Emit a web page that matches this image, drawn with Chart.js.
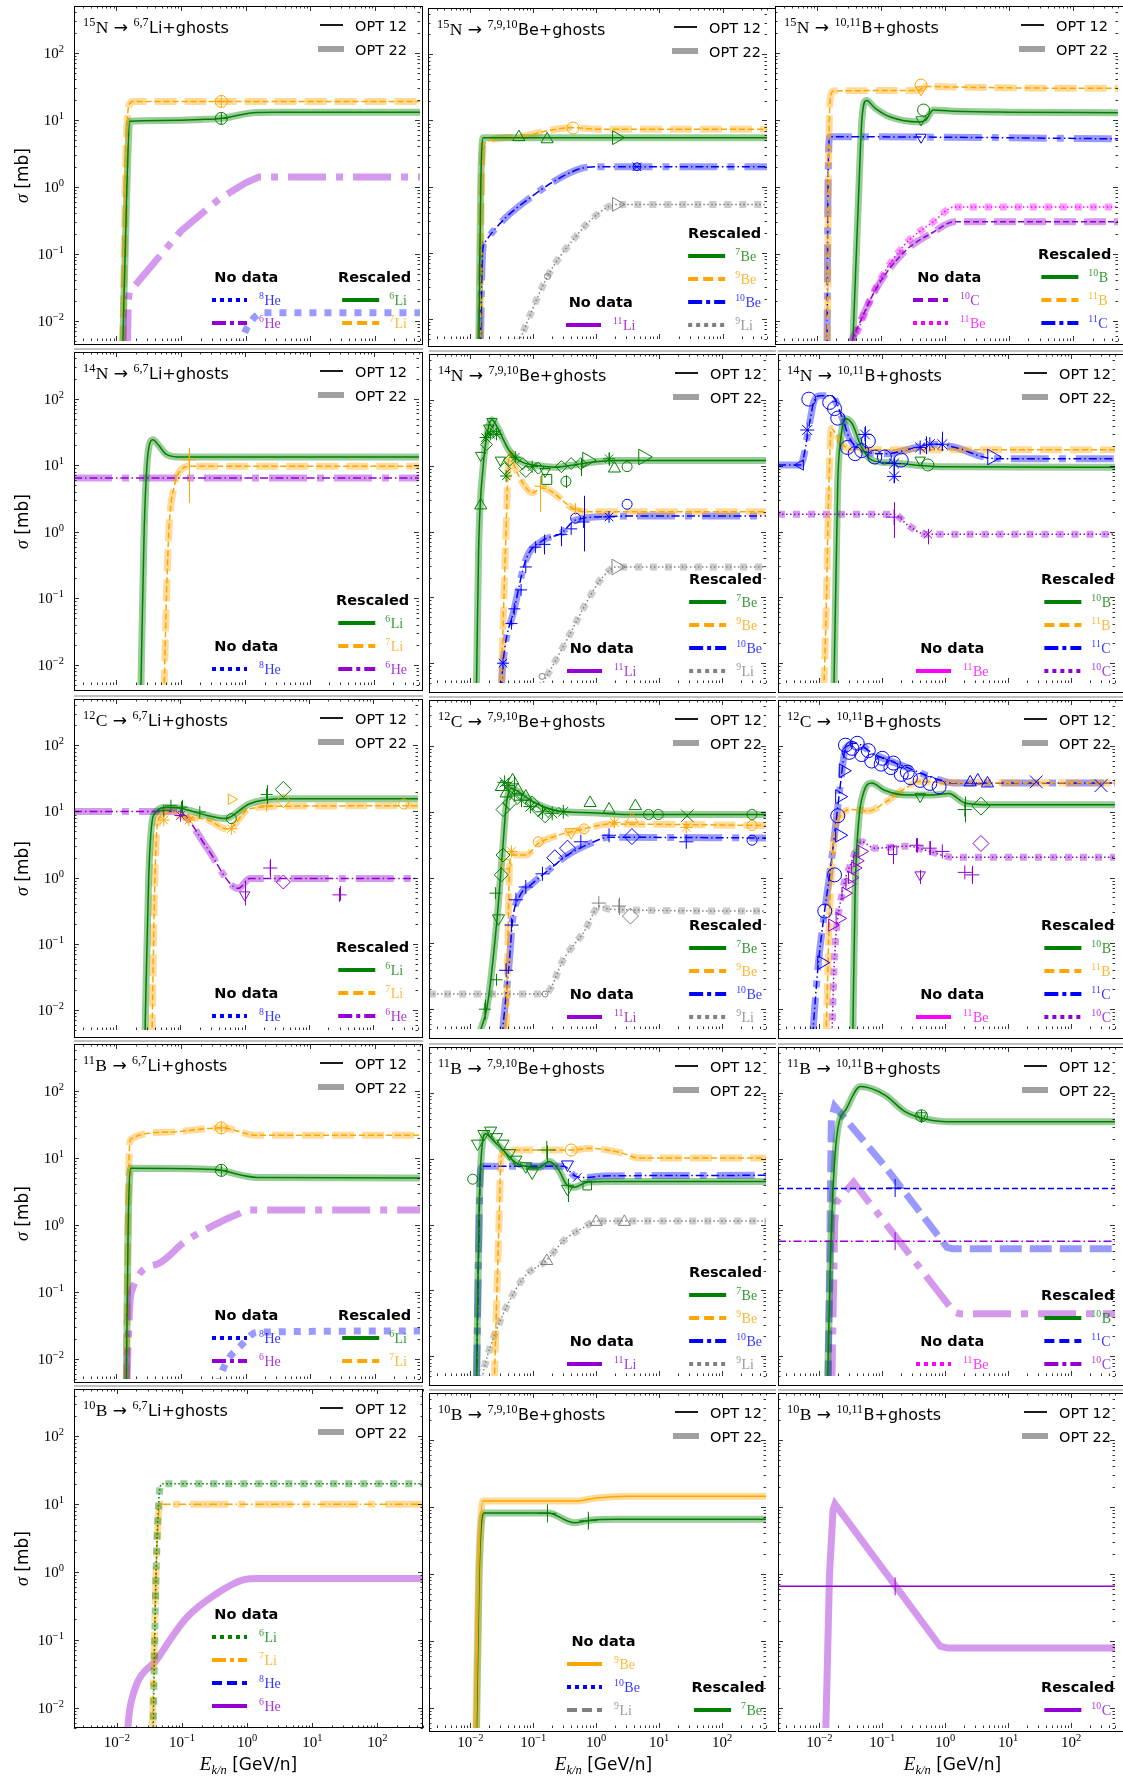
<!DOCTYPE html>
<html><head><meta charset="utf-8">
<script src="https://cdn.jsdelivr.net/npm/chart.js@4.4.0/dist/chart.umd.min.js"></script>
<style>
html,body{margin:0;padding:0;background:#fff}
body{width:1123px;height:1778px;position:relative;overflow:hidden}
canvas{position:absolute}
</style></head><body>
<script>
// ---------------- axis ----------------
const X_MIN = 0.0022, X_MAX = 500, Y_MIN = 0.005, Y_MAX = 500;
const tickDecades = [-2, -1, 0, 1, 2];
const tickExponents = ['\u22122', '\u22121', '0', '1', '2'];
const projectiles = ['15|N', '14|N', '12|C', '11|B', '10|B'];
const fragments = ['6,7|Li', '7,9,10|Be', '10,11|B'];

// ---------------- curves [E (GeV/n), sigma (mb)] ----------------
// 15N
const N15_Li6 = [[0.0125,0.004],[0.0145,1],[0.016,9.5],[0.05,9.8],[0.2,10.1],[0.45,10.6],[0.8,11.8],[1.3,12.8],[3,13],[500,13]];
const N15_Li7 = [[0.0125,0.004],[0.014,3],[0.016,17.5],[0.018,18.8],[500,18.8]];
const N15_He6 = [[0.0148,0.004],[0.0152,0.02],[0.0158,0.027],[0.021,0.037],[0.1,0.22],[0.39,0.66],[1.0,1.15],[1.6,1.4],[500,1.4]];
const N15_He8 = [[0.85,0.004],[0.95,0.0063],[1.25,0.0102],[1.8,0.0132],[500,0.0132]];
const N15_Be7 = [[0.014,0.004],[0.015,1],[0.0165,5.5],[500,5.5]];
const N15_Be9 = [[0.0145,0.004],[0.0155,1],[0.017,4.5],[0.05,5.6],[0.2,7.2],[0.43,7.8],[1,7.4],[500,7.4]];
const N15_Be10 = [[0.0148,0.004],[0.016,0.1],[0.0175,0.145],[0.036,0.33],[0.1,0.73],[0.22,1.22],[0.59,1.9],[1.0,2.0],[500,2.0]];
const N15_Li9 = [[0.057,0.004],[0.17,0.044],[0.46,0.17],[1.0,0.37],[2.1,0.54],[500,0.54]];
const N15_B11 = [[0.0145,0.004],[0.015,1],[0.016,20],[0.018,27],[0.38,27.5],[0.5,31.5],[1.2,31],[10,30],[500,29.5]];
const N15_B10 = [[0.036,0.004],[0.045,1],[0.05,10],[0.059,19.5],[0.08,15],[0.14,11],[0.39,9.3],[0.5,10],[0.65,14],[1.2,13.5],[10,13],[500,12.8]];
const N15_C11 = [[0.0143,0.004],[0.0148,1],[0.0158,5.6],[1,5.5],[500,5.2]];
const N15_C10 = [[0.031,0.004],[0.085,0.031],[0.23,0.107],[0.65,0.21],[1.4,0.30],[500,0.30]];
const N15_Be11 = [[0.034,0.004],[0.085,0.033],[0.23,0.135],[0.65,0.3],[1.4,0.5],[500,0.5]];
// 14N
const N14_Li6 = [[0.024,0.004],[0.027,1],[0.031,15],[0.037,24],[0.045,20],[0.06,14.5],[0.1,13.2],[500,13.2]];
const N14_Li7 = [[0.055,0.004],[0.062,0.3],[0.067,1.5],[0.08,5],[0.1,8.5],[0.14,9.6],[500,9.6]];
const N14_He6 = [[0.0022,6.4],[500,6.4]];
const N14_Be7 = [[0.0125,0.004],[0.0135,0.5],[0.016,10],[0.019,35],[0.022,50],[0.027,38],[0.04,18],[0.06,12],[0.12,10],[0.22,9.5],[0.5,10.5],[1,11.5],[2,12],[500,12]];
const N14_Be9 = [[0.031,0.004],[0.036,0.5],[0.042,17],[0.05,10],[0.068,5.5],[0.096,3.9],[0.137,4.6],[0.45,2.2],[0.64,2.0],[500,2.0]];
const N14_Be10 = [[0.031,0.004],[0.033,0.01],[0.05,0.067],[0.076,0.37],[0.137,0.72],[0.28,0.95],[0.47,1.5],[1.6,1.7],[3,1.72],[500,1.72]];
const N14_Li9 = [[0.125,0.004],[0.31,0.019],[0.8,0.105],[1.3,0.21],[2.1,0.29],[500,0.29]];
const N14_C11 = [[0.0022,10.3],[0.005,10.3],[0.0072,52],[0.0081,92],[0.0102,116],[0.0155,116],[0.0234,52],[0.0297,27],[0.0476,17],[0.108,15.2],[0.35,19],[0.64,21.3],[1.45,19],[4.2,13.5],[7.6,12.8],[500,12.8]];
const N14_B11 = [[0.0118,0.004],[0.013,0.1],[0.0138,1.8],[0.0155,37],[0.0174,33],[0.0234,21],[0.033,17.5],[500,17.5]];
const N14_B10 = [[0.017,0.004],[0.0185,0.3],[0.0196,5.5],[0.022,26.8],[0.026,52],[0.033,44],[0.047,19],[0.068,12.2],[0.137,11.1],[0.8,9.7],[500,9.5]];
const N14_C10 = [[0.0022,1.84],[0.154,1.84],[0.25,1.27],[0.5,0.91],[500,0.91]];
// 12C
const C12_He6 = [[0.0022,10],[0.09,10],[0.12,8.5],[0.26,2.8],[0.8,0.69],[1.2,0.97],[500,0.97]];
const C12_Li6 = [[0.028,0.004],[0.032,1],[0.038,8.7],[0.063,11.6],[0.1,11.2],[0.26,8.7],[0.5,7.8],[1.17,13],[4.2,15.5],[500,15.5]];
const C12_Li7 = [[0.036,0.004],[0.04,1],[0.045,7.5],[0.071,10],[0.11,8.4],[0.26,7.5],[0.55,5.4],[1.17,11],[4.2,12],[500,12.2]];
const C12_Be7 = [[0.0135,0.004],[0.0185,0.011],[0.026,0.19],[0.033,3.1],[0.037,12.2],[0.045,23],[0.053,21.3],[0.108,13.6],[0.25,10.3],[0.8,9.7],[3.3,9.1],[500,9.1]];
const C12_Be9 = [[0.037,0.004],[0.04,0.19],[0.042,1.6],[0.047,2.2],[0.076,2.2],[0.12,3.3],[0.25,4.4],[0.64,5.5],[1.6,6.5],[500,6.2]];
const C12_Be10 = [[0.032,0.004],[0.042,0.06],[0.047,0.23],[0.06,0.51],[0.096,0.81],[0.17,1.27],[0.35,2.2],[0.8,3.3],[1.6,4.1],[500,4.0]];
const C12_Li9 = [[0.0022,0.017],[0.154,0.017],[0.31,0.06],[0.64,0.15],[1.15,0.37],[1.6,0.33],[500,0.31]];
const C12_C11 = [[0.0078,0.004],[0.0096,0.048],[0.012,0.29],[0.0146,1.13],[0.0174,4.4],[0.022,30],[0.026,92],[0.037,110],[0.076,74],[0.25,47],[0.64,33],[1.3,27.5],[500,27.5]];
const C12_B11 = [[0.0128,0.004],[0.0146,0.33],[0.0174,4.4],[0.022,8.7],[0.033,10.8],[0.06,10.3],[0.108,13.6],[0.25,23.8],[0.4,29],[0.8,28],[500,27.5]];
const C12_B10 = [[0.034,0.004],[0.037,0.58],[0.042,6.9],[0.05,19],[0.068,27.4],[0.108,21.3],[0.25,18],[0.64,18],[1.15,19],[2.05,13.6],[4.7,12.8],[500,12.8]];
const C12_C10 = [[0.0158,0.004],[0.0174,0.06],[0.023,0.58],[0.033,1.8],[0.047,3.5],[0.076,2.8],[0.25,3.0],[0.57,2.5],[1.3,2.04],[500,2.04]];
// 11B
const B11_Li7 = [[0.0142,0.004],[0.0152,3],[0.0167,19],[0.055,24],[0.42,28],[1.5,21.7],[500,21.7]];
const B11_Li6 = [[0.0142,0.004],[0.0152,1],[0.0167,7],[0.35,6.7],[0.45,6.4],[1.5,5.1],[500,5.0]];
const B11_He6 = [[0.0145,0.004],[0.0155,0.03],[0.0167,0.094],[0.043,0.26],[0.117,0.57],[0.33,1.0],[0.7,1.4],[1.17,1.66],[500,1.66]];
const B11_He8 = [[0.38,0.004],[0.42,0.006],[0.91,0.017],[1.5,0.025],[500,0.026]];
const B11_Be7 = [[0.0125,0.004],[0.0138,1.8],[0.0155,17],[0.0174,24],[0.023,19],[0.033,13.6],[0.053,8.7],[0.076,7.7],[0.12,7.3],[0.18,9.1],[0.25,6.9],[0.35,3.9],[0.45,3.7],[0.72,4.4],[1.45,4.5],[500,4.5]];
const B11_Be10 = [[0.0125,0.004],[0.0146,6.9],[0.0164,7.7],[0.31,7.7],[0.45,5.5],[0.72,5.2],[1.3,5.5],[500,5.6]];
const B11_Be9 = [[0.024,0.004],[0.028,0.58],[0.031,10.8],[0.037,13.6],[0.4,13.6],[0.8,14.4],[2.6,12.2],[4.7,10.3],[500,10.3]];
const B11_Li9 = [[0.015,0.004],[0.0164,0.0063],[0.026,0.025],[0.068,0.15],[0.164,0.29],[0.31,0.58],[0.64,0.91],[1.0,1.13],[500,1.13]];
const B11_B10 = [[0.0135,0.004],[0.0151,0.4],[0.0186,19],[0.027,58],[0.045,125],[0.11,93],[0.23,52],[0.5,40],[1.38,36.5],[500,36.5]];
const B11_C11_o12 = [[0.0022,3.55],[500,3.55]];
const B11_C11_o22 = [[0.0138,0.004],[0.0155,40],[0.0175,63],[0.11,7.7],[1.07,0.45],[1.3,0.43],[500,0.43]];
const B11_C10_o12 = [[0.0022,0.56],[500,0.56]];
const B11_C10_o22 = [[0.0158,0.004],[0.0175,1],[0.0186,2.2],[0.035,4.4],[1.38,0.047],[1.7,0.044],[500,0.044]];
// 10B
const B10_Li6 = [[0.036,0.004],[0.04,1],[0.044,11],[0.049,20],[500,20]];
const B10_Li7 = [[0.035,0.004],[0.04,1],[0.045,9],[0.049,10],[500,10]];
const B10_He6 = [[0.0145,0.004],[0.0152,0.007],[0.0167,0.0125],[0.043,0.054],[0.117,0.21],[0.33,0.47],[0.9,0.77],[1.5,0.8],[500,0.8]];
const B10_Be9 = [[0.0122,0.004],[0.0135,1],[0.016,12.2],[0.45,12.2],[1.0,13.5],[3,14.4],[500,14.4]];
const B10_Be7 = [[0.0125,0.004],[0.0138,1],[0.0165,8.1],[0.17,8.1],[0.45,5.8],[0.8,6.3],[2,6.5],[500,6.5]];
const B10_C10_o12 = [[0.0022,0.65],[500,0.65]];
const B10_C10_o22 = [[0.0126,0.004],[0.0145,1],[0.0165,9],[0.0177,11],[0.83,0.083],[1.1,0.078],[500,0.078]];
// curves drawn with straight segments (no smoothing)
const LINEAR_CURVES = [N15_He6, B11_C11_o22, B11_C10_o22, B10_C10_o22];

// ---------------- data points ----------------
const N15_Li6_pts = [[0.42,10.5]];
const N15_Li7_pts = [[0.42,18.8]];
const N15_Be7_up = [[0.06,5.6],[0.168,5.2]];
const N15_Be7_right = [[2.1,5.5]];
const N15_Be9_pts = [[0.43,7.7]];
const N15_Be10_pts = [[4.4,2.0]];
const N15_Li9_pts = [[2.1,0.54]];
const N15_Li9_small = [[0.17,0.044]];
const N15_B11_pts = [[0.42,33]];
const N15_B11_down = [[0.42,28]];
const N15_B10_pts = [[0.46,14]];
const N15_B10_down = [[0.42,10]];
const N15_C11_down = [[0.42,5.5]];
const N14_Li7_pts = [[0.135,12]];
const N14_Be7_up = [[0.0146,2.5],[1.95,9.1]];
const N14_Be7_down = [[0.0146,14.4],[0.0196,37.5],[0.022,47],[0.03,12.2],[0.154,8.2]];
const N14_Be7_star = [[0.0174,26.9],[0.021,30],[0.023,33],[0.026,30],[0.037,7],[0.052,13.5],[0.096,9.7],[1.6,12.8]];
const N14_Be7_dia = [[0.018,21],[0.035,9.1],[0.042,12.2],[0.068,10.8],[0.076,8.2],[0.12,9.2],[0.28,9.7],[0.4,10.8],[0.57,10.8]];
const N14_Be7_sq = [[0.164,6.2]];
const N14_Be7_circ = [[0.33,5.8],[3.1,9.7]];
const N14_Be7_right = [[5.6,13.6],[0.72,12.2]];
const N14_Be9_pts = [[0.13,4.9],[0.47,2.2]];
const N14_Be10_cross = [[0.045,0.04],[0.05,0.067],[0.064,0.13],[0.076,0.29],[0.108,0.58],[0.15,0.64],[0.28,0.9],[0.4,1.1],[0.63,1.4]];
const N14_Be10_star = [[0.033,0.01],[1.6,1.67]];
const N14_Be10_circ = [[0.47,1.6],[3.1,2.6]];
const N14_Li9_pts = [[2.1,0.29]];
const N14_Li9_small = [[0.138,0.0063]];
const N14_C11_hex = [[0.0068,103],[0.0146,92],[0.0174,74],[0.0196,53],[0.028,19],[0.037,15.3],[0.047,17],[0.06,23.8],[0.076,13.6],[0.108,13.6],[0.2,12.2]];
const N14_C11_cross = [[0.0064,35],[0.053,30],[0.154,10.8],[0.154,6.9],[0.4,19],[0.57,21.3],[0.9,21.3]];
const N14_C11_left = [[0.005,10.3]];
const N14_C11_right = [[5.6,13.6]];
const N14_B10_down = [[0.4,12.2]];
const N14_B10_hex = [[0.53,10.3]];
const N14_C10_cross = [[0.154,1.66]];
const N14_C10_x = [[0.53,0.91]];
const C12_Li6_cross = [[0.055,10.3],[0.071,12.2],[0.104,11.6],[0.2,9.8],[2.2,18]];
const C12_Li6_circ = [[0.62,7.8]];
const C12_Li6_dia = [[4,21.5]];
const C12_Li7_star = [[0.055,7.4],[0.135,7.4],[0.62,5.5]];
const C12_Li7_right = [[0.62,15.3]];
const C12_Li7_dia = [[4,14.5]];
const C12_Li7_cross = [[2.2,12.2]];
const C12_Li7_circ = [[300,13]];
const C12_He6_down = [[1.0,0.55]];
const C12_He6_cross = [[2.5,1.4],[30,0.55]];
const C12_He6_dia = [[4,0.86]];
const C12_He6_star = [[0.1,8.7]];
const C12_Be7_tri = [[0.031,23.8],[0.037,19],[0.047,30],[0.057,21.3],[0.076,17],[0.8,13.6],[1.6,10.8],[4.2,12.2]];
const C12_Be7_dia = [[0.033,10.8],[0.042,13.6],[0.096,13.6],[0.12,10.8],[0.154,8.7],[0.033,2.2],[0.031,1.1]];
const C12_Be7_star = [[0.035,28],[0.04,25],[0.05,18],[0.065,15],[0.09,12],[0.14,10],[0.2,9.5],[0.3,10]];
const C12_Be7_cross = [[0.025,0.58],[0.017,0.01],[0.026,0.028]];
const C12_Be7_down = [[0.028,0.24]];
const C12_Be7_circ = [[6.8,9.1],[9.7,9.1],[300,9.1]];
const C12_Be7_x = [[28,8.7]];
const C12_Be9_circ = [[0.037,1.6],[0.12,3.5],[0.64,5.5],[300,6.2]];
const C12_Be9_star = [[0.045,2.5],[1.95,6.9],[27,5.8]];
const C12_Be9_down = [[0.4,4.9]];
const C12_Be9_up = [[3.7,7.7]];
const C12_Be10_cross = [[0.037,0.039],[0.045,0.19],[0.053,0.46],[0.076,0.72],[0.14,1.14],[0.57,3.5],[1.6,4.4],[27,3.5]];
const C12_Be10_dia = [[0.22,2.0],[0.35,2.8],[3.7,4.2]];
const C12_Be10_circ = [[300,3.7]];
const C12_Li9_circ = [[0.154,0.017]];
const C12_Li9_cross = [[1.1,0.41],[2.3,0.37]];
const C12_Li9_dia = [[3.5,0.26]];
const C12_C11_hex = [[0.026,103],[0.033,92],[0.047,74],[0.068,59],[0.096,53],[0.137,47],[0.2,37],[0.28,33],[0.4,30],[0.57,27],[0.8,24],[0.03,80],[0.04,110],[0.06,85],[0.1,65],[0.15,55],[0.25,40],[0.0174,1.1],[0.0122,0.31],[0.0196,8.7]];
const C12_C11_tri = [[2.5,28],[3.3,30],[4.7,27]];
const C12_C11_x = [[28,28.5],[300,25]];
const C12_C11_right = [[0.024,42],[0.021,17],[0.021,4.4],[0.0109,0.051]];
const C12_B10_down = [[0.4,17]];
const C12_B10_cross = [[2.05,10.8]];
const C12_B10_dia = [[3.7,12.2]];
const C12_C10_right = [[0.016,0.19],[0.021,0.24],[0.026,0.58],[0.03,0.8],[0.033,1.0],[0.037,1.4],[0.04,1.8],[0.047,2.5]];
const C12_C10_sq = [[0.146,2.6]];
const C12_C10_cross = [[0.35,3.1],[0.57,2.8],[0.9,2.5],[2.05,1.2],[2.7,1.1]];
const C12_C10_down = [[0.4,1.1]];
const C12_C10_dia = [[3.7,3.3]];
const B11_Li6_pts = [[0.42,6.5]];
const B11_Li7_pts = [[0.42,28]];
const B11_Be7_circ = [[0.0109,4.9]];
const B11_Be7_down = [[0.013,17],[0.0164,23.8],[0.021,26.8],[0.026,21.3],[0.033,17],[0.042,12.2],[0.053,9.7],[0.076,7.7],[0.096,6.2],[0.35,3.5]];
const B11_Be7_cross = [[0.164,13.6]];
const B11_Be7_sq = [[0.72,3.9]];
const B11_Be9_pts = [[0.4,13.6]];
const B11_Be10_down = [[0.35,8.2]];
const B11_Be10_x = [[0.5,5.2]];
const B11_Li9_up = [[0.164,0.28],[1.0,1.1],[2.8,1.1]];
const B11_B10_pts = [[0.42,45]];
const B11_C11_pts = [[0.16,3.6]];
const B11_C10_pts = [[0.16,0.56]];
const B10_Be7_pts = [[0.168,8],[0.75,6.2]];
const B10_C10_pts = [[0.16,0.65]];

// ---------------- error bars [E, low, high] ----------------
const N14_Li7_err = [[0.135,2.7,18]];
const N14_Be9_err = [[0.13,2.0,7.0]];
const N14_Be7_err = [[0.33,4.6,7.2],[0.57,7,13],[1.6,10,16]];
const N14_Be10_err = [[0.63,0.5,3.5],[0.15,0.45,0.9],[0.28,0.6,1.2]];
const N14_C11_err = [[0.154,5.5,12],[0.9,17,33],[0.053,18,40],[0.5,15,28]];
const N14_C10_err = [[0.154,0.8,2.8],[0.53,0.64,1.1]];
const C12_He6_err = [[1.0,0.38,0.9],[2.5,1.0,1.9],[30,0.45,0.75]];
const C12_Li6_err = [[2.2,13,25],[0.104,8,15]];
const C12_Be7_err = [[0.017,0.007,0.014],[0.05,20,35]];
const C12_Li9_err = [[2.3,0.27,0.5]];
const C12_B10_err = [[2.05,6.9,17]];
const C12_C10_err = [[0.35,2.4,4.0],[0.57,2.2,3.6],[2.7,0.8,1.5],[0.146,1.6,3.2],[0.4,0.8,1.3]];
const B11_Be7_err = [[0.35,2.2,5.0],[0.164,9,16]];
const B11_B10_err = [[0.42,35,56]];
const B10_Be7_err = [[0.75,5,7.5]];

// ---------------- series table: [panel, nuclide, colour, style, legend column, OPT12, OPT22] ----------------
const SERIES = [
 [0,'8|He','blue','dot','nd',null,N15_He8],
 [0,'6|He','purple','dashdot','nd',null,N15_He6],
 [0,'6|Li','green','solid','rs',N15_Li6,N15_Li6],
 [0,'7|Li','orange','dash','rs',N15_Li7,N15_Li7],
 [1,'11|Li','purple','solid','nd',null,null],
 [1,'7|Be','green','solid','rs',N15_Be7,N15_Be7],
 [1,'9|Be','orange','dash','rs',N15_Be9,N15_Be9],
 [1,'10|Be','blue','dashdot','rs',N15_Be10,N15_Be10],
 [1,'9|Li','gray','dot','rs',N15_Li9,N15_Li9],
 [2,'10|C','purple','dash','nd',N15_C10,N15_C10],
 [2,'11|Be','magenta','dot','nd',N15_Be11,N15_Be11],
 [2,'10|B','green','solid','rs',N15_B10,N15_B10],
 [2,'11|B','orange','dash','rs',N15_B11,N15_B11],
 [2,'11|C','blue','dashdot','rs',N15_C11,N15_C11],
 [3,'8|He','blue','dot','nd',null,null],
 [3,'6|Li','green','solid','rs',N14_Li6,N14_Li6],
 [3,'7|Li','orange','dash','rs',N14_Li7,N14_Li7],
 [3,'6|He','purple','dashdot','rs',N14_He6,N14_He6],
 [4,'11|Li','purple','solid','nd',null,null],
 [4,'7|Be','green','solid','rs',N14_Be7,N14_Be7],
 [4,'9|Be','orange','dash','rs',N14_Be9,N14_Be9],
 [4,'10|Be','blue','dashdot','rs',N14_Be10,N14_Be10],
 [4,'9|Li','gray','dot','rs',N14_Li9,N14_Li9],
 [5,'11|Be','magenta','solid','nd',null,null],
 [5,'10|B','green','solid','rs',N14_B10,N14_B10],
 [5,'11|B','orange','dash','rs',N14_B11,N14_B11],
 [5,'11|C','blue','dashdot','rs',N14_C11,N14_C11],
 [5,'10|C','purple','dot','rs',N14_C10,N14_C10],
 [6,'8|He','blue','dot','nd',null,null],
 [6,'6|Li','green','solid','rs',C12_Li6,C12_Li6],
 [6,'7|Li','orange','dash','rs',C12_Li7,C12_Li7],
 [6,'6|He','purple','dashdot','rs',C12_He6,C12_He6],
 [7,'11|Li','purple','solid','nd',null,null],
 [7,'7|Be','green','solid','rs',C12_Be7,C12_Be7],
 [7,'9|Be','orange','dash','rs',C12_Be9,C12_Be9],
 [7,'10|Be','blue','dashdot','rs',C12_Be10,C12_Be10],
 [7,'9|Li','gray','dot','rs',C12_Li9,C12_Li9],
 [8,'11|Be','magenta','solid','nd',null,null],
 [8,'10|B','green','solid','rs',C12_B10,C12_B10],
 [8,'11|B','orange','dash','rs',C12_B11,C12_B11],
 [8,'11|C','blue','dashdot','rs',C12_C11,C12_C11],
 [8,'10|C','purple','dot','rs',C12_C10,C12_C10],
 [9,'8|He','blue','dot','nd',null,B11_He8],
 [9,'6|He','purple','dashdot','nd',null,B11_He6],
 [9,'6|Li','green','solid','rs',B11_Li6,B11_Li6],
 [9,'7|Li','orange','dash','rs',B11_Li7,B11_Li7],
 [10,'11|Li','purple','solid','nd',null,null],
 [10,'7|Be','green','solid','rs',B11_Be7,B11_Be7],
 [10,'9|Be','orange','dash','rs',B11_Be9,B11_Be9],
 [10,'10|Be','blue','dashdot','rs',B11_Be10,B11_Be10],
 [10,'9|Li','gray','dot','rs',B11_Li9,B11_Li9],
 [11,'11|Be','magenta','dot','nd',null,null],
 [11,'10|B','green','solid','rs',B11_B10,B11_B10],
 [11,'11|C','blue','dash','rs',B11_C11_o12,B11_C11_o22],
 [11,'10|C','purple','dashdot','rs',B11_C10_o12,B11_C10_o22],
 [12,'6|Li','green','dot','nd',B10_Li6,B10_Li6],
 [12,'7|Li','orange','dashdot','nd',B10_Li7,B10_Li7],
 [12,'8|He','blue','dash','nd',null,null],
 [12,'6|He','purple','solid','nd',null,B10_He6],
 [13,'9|Be','orange','solid','nd',B10_Be9,B10_Be9],
 [13,'10|Be','blue','dot','nd',null,null],
 [13,'9|Li','gray','dash','nd',null,null],
 [13,'7|Be','green','solid','rs',B10_Be7,B10_Be7],
 [14,'10|C','purple','solid','rs',B10_C10_o12,B10_C10_o22],
];

// ---------------- marker table: [panel, points, colour, shape, rotation, radius] ----------------
const MARKERS = [
 [0,N15_Li6_pts,'green','circle',0,6],[0,N15_Li6_pts,'green','cross',0,6],
 [0,N15_Li7_pts,'orange','circle',0,6],[0,N15_Li7_pts,'orange','cross',0,6],
 [1,N15_Be7_up,'green','triangle',0,7],[1,N15_Be7_right,'green','triangle',90,8],
 [1,N15_Be9_pts,'orange','circle',0,6],[1,N15_Be10_pts,'blue','crossRot',0,6],[1,N15_Be10_pts,'blue','circle',0,4],
 [1,N15_Li9_pts,'gray','triangle',90,8],[1,N15_Li9_small,'gray','circle',0,3],
 [2,N15_B11_pts,'orange','circle',0,6],[2,N15_B11_down,'orange','triangle',180,6],
 [2,N15_B10_pts,'green','circle',0,6],[2,N15_B10_down,'green','triangle',180,6],[2,N15_C11_down,'blue','triangle',180,6],
 [3,N14_Li7_pts,'orange','cross',0,7],
 [4,N14_Be7_up,'green','triangle',0,7],[4,N14_Be7_down,'green','triangle',180,6],[4,N14_Be7_star,'green','star',0,6],
 [4,N14_Be7_dia,'green','rectRot',0,6],[4,N14_Be7_sq,'green','rect',0,7],[4,N14_Be7_circ,'green','circle',0,5],
 [4,N14_Be7_right,'green','triangle',90,9],[4,N14_Be9_pts,'orange','cross',0,6],
 [4,N14_Be10_cross,'blue','cross',0,6],[4,N14_Be10_star,'blue','star',0,6],[4,N14_Be10_circ,'blue','circle',0,5],
 [4,N14_Li9_pts,'gray','triangle',90,9],[4,N14_Li9_small,'gray','circle',0,3],
 [5,N14_C11_hex,'blue','circle',0,7],[5,N14_C11_cross,'blue','star',0,7],[5,N14_C11_left,'blue','triangle',270,6],
 [5,N14_C11_right,'blue','triangle',90,9],[5,N14_B10_down,'green','triangle',180,6],[5,N14_B10_hex,'green','circle',0,6],
 [5,N14_C10_cross,'purple','cross',0,8],[5,N14_C10_x,'purple','crossRot',0,6],
 [6,C12_Li6_cross,'green','cross',0,6],[6,C12_Li6_circ,'green','circle',0,5],[6,C12_Li6_dia,'green','rectRot',0,8],
 [6,C12_Li7_star,'orange','star',0,6],[6,C12_Li7_right,'orange','triangle',90,6],[6,C12_Li7_dia,'orange','rectRot',0,7],
 [6,C12_Li7_cross,'orange','cross',0,6],[6,C12_Li7_circ,'orange','circle',0,5],
 [6,C12_He6_down,'purple','triangle',180,6],[6,C12_He6_cross,'purple','cross',0,7],[6,C12_He6_dia,'purple','rectRot',0,7],[6,C12_He6_star,'purple','star',0,6],
 [7,C12_Be7_tri,'green','triangle',0,7],[7,C12_Be7_dia,'green','rectRot',0,7],[7,C12_Be7_star,'green','star',0,7],
 [7,C12_Be7_cross,'green','cross',0,6],[7,C12_Be7_down,'green','triangle',180,7],[7,C12_Be7_circ,'green','circle',0,5],[7,C12_Be7_x,'green','crossRot',0,9],
 [7,C12_Be9_circ,'orange','circle',0,5],[7,C12_Be9_star,'orange','star',0,6],[7,C12_Be9_down,'orange','triangle',180,7],[7,C12_Be9_up,'orange','triangle',0,7],
 [7,C12_Be10_cross,'blue','cross',0,7],[7,C12_Be10_dia,'blue','rectRot',0,8],[7,C12_Be10_circ,'blue','circle',0,5],
 [7,C12_Li9_circ,'gray','circle',0,3],[7,C12_Li9_cross,'gray','cross',0,7],[7,C12_Li9_dia,'gray','rectRot',0,8],
 [8,C12_C11_hex,'blue','circle',0,7],[8,C12_C11_tri,'blue','triangle',0,7],[8,C12_C11_x,'blue','crossRot',0,9],
 [8,C12_C11_right,'blue','triangle',90,8],[8,C12_B10_down,'green','triangle',180,6],[8,C12_B10_cross,'green','cross',0,7],
 [8,C12_B10_dia,'green','rectRot',0,9],[8,C12_C10_right,'purple','triangle',90,7],[8,C12_C10_sq,'purple','rect',0,6],
 [8,C12_C10_cross,'purple','cross',0,7],[8,C12_C10_down,'purple','triangle',180,6],[8,C12_C10_dia,'purple','rectRot',0,8],
 [9,B11_Li6_pts,'green','circle',0,6],[9,B11_Li6_pts,'green','cross',0,6],
 [9,B11_Li7_pts,'orange','circle',0,6],[9,B11_Li7_pts,'orange','cross',0,6],
 [10,B11_Be7_circ,'green','circle',0,5],[10,B11_Be7_down,'green','triangle',180,7],[10,B11_Be7_cross,'green','cross',0,9],
 [10,B11_Be7_sq,'green','rect',0,6],[10,B11_Be9_pts,'orange','circle',0,6],[10,B11_Be10_down,'blue','triangle',180,7],
 [10,B11_Be10_x,'blue','crossRot',0,6],[10,B11_Li9_up,'gray','triangle',0,7],
 [11,B11_B10_pts,'green','circle',0,6],[11,B11_B10_pts,'green','triangle',180,6],
 [11,B11_C11_pts,'blue','cross',0,9],[11,B11_C10_pts,'purple','cross',0,9],
 [13,B10_Be7_pts,'green','cross',0,9],
 [14,B10_C10_pts,'purple','cross',0,9],
];

// ---------------- error-bar table: [panel, bars, colour] ----------------
const ERRBARS = [
 [3,N14_Li7_err,'orange'],[4,N14_Be9_err,'orange'],[4,N14_Be7_err,'green'],[4,N14_Be10_err,'blue'],
 [5,N14_C11_err,'blue'],[5,N14_C10_err,'purple'],[6,C12_He6_err,'purple'],[6,C12_Li6_err,'green'],
 [7,C12_Be7_err,'green'],[7,C12_Li9_err,'gray'],[8,C12_B10_err,'green'],[8,C12_C10_err,'purple'],
 [10,B11_Be7_err,'green'],[11,B11_B10_err,'green'],[13,B10_Be7_err,'green'],
];

// ---------------- styles ----------------
const COL = {green:'#008000', orange:'#ffa500', blue:'#0000ff', purple:'#9400d3', magenta:'#ff00ff', gray:'#808080'};
const DASH_THIN = {solid:[], dash:[6,3], dashdot:[8,3,1.5,3], dot:[1.5,2.5]};
const DASH_THICK = {solid:[], dash:[22,8], dashdot:[38,10,7,10], dot:[7,8]};
const DASH_LEG = {solid:[], dash:[10,5], dashdot:[14,4,4,4], dot:[4,4]};
const SERIF = '"Liberation Serif", "DejaVu Serif", serif';
const SANS = '"DejaVu Sans", sans-serif';
const COL_X = [74, 423, 772], ROW_Y = [5, 350, 696, 1043, 1389], PW = 349, PH = 339;

function rgba(hex, a){const n=parseInt(hex.slice(1),16);return `rgba(${n>>16},${(n>>8)&255},${n&255},${a})`;}
function rich(ctx, x, y, segs, draw){
  let cx = x;
  for (const s of segs){
    ctx.font = s.f;
    if (draw){ ctx.fillStyle = s.c || '#000'; ctx.fillText(s.t, cx, y + (s.dy || 0)); }
    cx += ctx.measureText(s.t).width + (s.sp || 0);
  }
  return cx - x;
}
function nucSegs(nuc, size, color){
  const [m, e] = nuc.split('|');
  return [{t:m, f:`${(size*0.7).toFixed(1)}px ${SERIF}`, dy:-size*0.42, c:color, sp:0.5}, {t:e, f:`${size}px ${SERIF}`, c:color}];
}
function hline(ctx, x0, x1, y, color, w, dash){
  ctx.save(); ctx.strokeStyle=color; ctx.lineWidth=w; ctx.setLineDash(dash||[]); ctx.lineCap='butt';
  ctx.beginPath(); ctx.moveTo(x0,y); ctx.lineTo(x1,y); ctx.stroke(); ctx.restore();
}

function drawLegendColumn(ctx, a, entries, side){
  if (!entries.length) return;
  const rowH = 23, lastY = a.top + 317, n = entries.length;
  const widths = entries.map(e => rich(ctx, 0, 0, nucSegs(e[1], 14, '#000'), false));
  const mw = Math.max(...widths);
  let hx0, hx1, lx, colL, colR;
  if (side === 'nd'){ hx0 = a.left + 138; hx1 = a.left + 173; lx = a.left + 185; colL = hx0; colR = lx + mw; }
  else { lx = a.left + 333 - mw; hx1 = lx - 10; hx0 = hx1 - 37; colL = hx0; colR = a.left + 333; }
  ctx.font = `bold 14.5px ${SANS}`; ctx.fillStyle = '#000'; ctx.textAlign = 'center';
  ctx.fillText(side === 'nd' ? 'No data' : 'Rescaled', (colL + colR)/2, lastY - n*rowH + 5);
  ctx.textAlign = 'left';
  entries.forEach((e, i) => {
    const y = lastY - (n - 1 - i)*rowH;
    hline(ctx, hx0, hx1, y, COL[e[2]], 4, DASH_LEG[e[3]]);
    rich(ctx, lx, y + 5, nucSegs(e[1], 14, rgba(COL[e[2]], 0.8)), true);
  });
}

function makeDecor(p){
  const r = Math.floor(p/3), c = p % 3;
  return {
    id: 'decor' + p,
    afterDatasetsDraw(chart){
      const ctx = chart.ctx, a = chart.chartArea, xs = chart.scales.x, ys = chart.scales.y;
      ctx.save();
      ctx.beginPath(); ctx.rect(a.left, a.top, a.width, a.height); ctx.clip();
      ctx.lineWidth = 1;
      ERRBARS.filter(e => e[0] === p).forEach(e => {
        ctx.strokeStyle = COL[e[2]];
        e[1].forEach(b => {
          const px = Math.round(xs.getPixelForValue(b[0])) + 0.5;
          ctx.beginPath(); ctx.moveTo(px, ys.getPixelForValue(b[1])); ctx.lineTo(px, ys.getPixelForValue(b[2])); ctx.stroke();
        });
      });
      ctx.restore();
    },
    afterDraw(chart){
      const ctx = chart.ctx, a = chart.chartArea, xs = chart.scales.x, ys = chart.scales.y;
      ctx.save();
      ctx.textBaseline = 'alphabetic';
      if (r > 0){ ctx.fillStyle = 'rgba(150,150,150,0.6)'; ctx.fillRect(a.left, a.top - 4, PW, 2); }
      ctx.strokeStyle = '#000'; ctx.lineWidth = 0.8;
      for (let d = -3; d <= 2; d++){
        for (let m = 1; m <= 9; m++){
          const v = m * Math.pow(10, d);
          const len = m === 1 ? 5 : 2.5;
          if (v >= X_MIN && v <= X_MAX){
            const px = Math.round(xs.getPixelForValue(v)) + 0.5;
            ctx.beginPath(); ctx.moveTo(px, a.bottom); ctx.lineTo(px, a.bottom - len);
            ctx.moveTo(px, a.top); ctx.lineTo(px, a.top + len); ctx.stroke();
          }
          if (v >= Y_MIN && v <= Y_MAX){
            const py = Math.round(ys.getPixelForValue(v)) + 0.5;
            ctx.beginPath(); ctx.moveTo(a.left, py); ctx.lineTo(a.left + len, py);
            ctx.moveTo(a.right, py); ctx.lineTo(a.right - len, py); ctx.stroke();
          }
        }
      }
      ctx.lineWidth = 1; ctx.strokeRect(a.left + 0.5, a.top + 0.5, PW - 1, PH - 1);
      if (c === 0){
        tickDecades.forEach((d, i) => {
          const py = ys.getPixelForValue(Math.pow(10, d));
          const segs = [{t:'10', f:`15px ${SERIF}`}, {t:tickExponents[i], f:`10.5px ${SERIF}`, dy:-6}];
          const w = rich(ctx, 0, 0, segs, false);
          rich(ctx, a.left - 10 - w, py + 5, segs, true);
        });
        ctx.save(); ctx.translate(a.left - 46, a.top + PH/2); ctx.rotate(-Math.PI/2);
        const segs = [{t:'\u03c3', f:`italic 18px ${SERIF}`}, {t:' [mb]', f:`17px ${SANS}`}];
        const w = rich(ctx, 0, 0, segs, false); rich(ctx, -w/2, 0, segs, true); ctx.restore();
      }
      if (r === 4){
        tickDecades.forEach((d, i) => {
          const px = xs.getPixelForValue(Math.pow(10, d));
          const segs = [{t:'10', f:`15px ${SERIF}`}, {t:tickExponents[i], f:`10.5px ${SERIF}`, dy:-6}];
          const w = rich(ctx, 0, 0, segs, false);
          rich(ctx, px - w/2, a.bottom + 19, segs, true);
        });
        const segs = [{t:'E', f:`italic 19px ${SERIF}`}, {t:'k/n', f:`italic 12.5px ${SERIF}`, dy:4}, {t:' [GeV/n]', f:`17px ${SANS}`}];
        const w = rich(ctx, 0, 0, segs, false);
        rich(ctx, a.left + PW/2 - w/2, a.bottom + 42, segs, true);
      }
      const [fm, fe] = fragments[c].split('|');
      const tsegs = nucSegs(projectiles[r], 17.5, '#000').concat([
        {t:' \u2192 ', f:`17px ${SANS}`},
        {t:fm, f:`12px ${SERIF}`, dy:-7.3, sp:0.5},
        {t:fe + '+ghosts', f:`16px ${SANS}`}]);
      rich(ctx, a.left + 9, a.top + 27, tsegs, true);
      hline(ctx, a.left + 246, a.left + 269, a.top + 19, '#000', 1.8, []);
      hline(ctx, a.left + 244, a.left + 270, a.top + 43, 'rgba(128,128,128,0.75)', 6, []);
      ctx.font = `14.5px ${SANS}`; ctx.fillStyle = '#000';
      ctx.fillText('OPT 12', a.left + 281, a.top + 24.5);
      ctx.fillText('OPT 22', a.left + 281, a.top + 48.5);
      const mine = SERIES.filter(s => s[0] === p);
      drawLegendColumn(ctx, a, mine.filter(s => s[4] === 'nd'), 'nd');
      drawLegendColumn(ctx, a, mine.filter(s => s[4] === 'rs'), 'rs');
      ctx.restore();
    }
  };
}

function lineOpts(d){
  return LINEAR_CURVES.includes(d) ? {tension:0} : {cubicInterpolationMode:'monotone'};
}

for (let p = 0; p < 15; p++){
  const r = Math.floor(p/3), c = p % 3;
  const padL = c === 0 ? 74 : 4, padR = 4, padT = 6, padB = r === 4 ? 50 : 4;
  const cv = document.createElement('canvas');
  cv.width = PW + padL + padR; cv.height = PH + padT + padB;
  cv.style.width = cv.width + 'px'; cv.style.height = cv.height + 'px';
  cv.style.left = (COL_X[c] - padL) + 'px'; cv.style.top = (ROW_Y[r] - padT) + 'px';
  document.body.appendChild(cv);
  const datasets = [];
  SERIES.filter(s => s[0] === p).forEach(s => {
    const [, , col, sty, , d12, d22] = s;
    if (d22) datasets.push(Object.assign({data:d22, showLine:true, pointRadius:0, borderColor:rgba(COL[col],0.4), borderWidth:7,
      borderDash:DASH_THICK[sty], clip:0, order:3, fill:false}, lineOpts(d22)));
    if (d12) datasets.push(Object.assign({data:d12, showLine:true, pointRadius:0, borderColor:COL[col], borderWidth:1.5,
      borderDash:DASH_THIN[sty], clip:0, order:2, fill:false}, lineOpts(d12)));
  });
  MARKERS.filter(m => m[0] === p).forEach(m => {
    datasets.push({data:m[1], showLine:false, pointStyle:m[3], rotation:m[4], pointRadius:m[5],
      borderColor:COL[m[2]], backgroundColor:'rgba(0,0,0,0)', borderWidth:1, order:1, clip:4});
  });
  new Chart(cv, {
    type: 'scatter',
    data: {datasets},
    options: {
      responsive:false, animation:false, devicePixelRatio:1, events:[],
      layout:{padding:{left:padL, right:padR, top:padT, bottom:padB}},
      plugins:{legend:{display:false}, tooltip:{enabled:false}, title:{display:false}},
      scales:{
        x:{type:'logarithmic', min:X_MIN, max:X_MAX, display:false},
        y:{type:'logarithmic', min:Y_MIN, max:Y_MAX, display:false}
      }
    },
    plugins:[makeDecor(p)]
  });
}
</script>
</body></html>
